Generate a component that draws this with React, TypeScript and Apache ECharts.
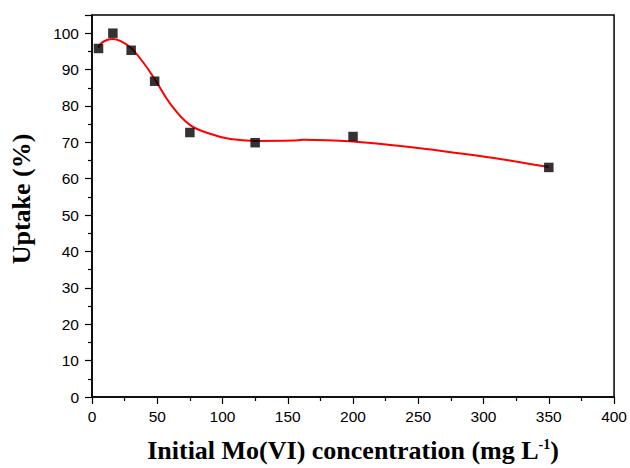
import React, { useEffect, useRef } from "react";
import * as echarts from "echarts";

// Measured uptake at each initial concentration
const concentrations = [5, 16, 30, 48, 75, 125, 200, 350];
const uptake = [95.8, 100, 95.3, 86.8, 72.7, 69.9, 71.6, 63.1];

// Fitted curve (x, y) samples
const fitX = [5, 7.3, 12, 16, 22, 30, 40, 48, 60, 75, 91, 106, 125, 154, 162, 200, 238, 275, 308, 350];
const fitY = [96.0, 97.3, 98.2, 98.4, 97.8, 95.9, 91.6, 87.4, 80.6, 74.8, 72.3, 70.9, 70.4, 70.5, 70.7, 70.2, 68.9, 67.3, 65.7, 63.2];

const xTicks = [0, 50, 100, 150, 200, 250, 300, 350, 400];
const yTicks = [0, 10, 20, 30, 40, 50, 60, 70, 80, 90, 100];

const SANS = "Liberation Sans, Arial, sans-serif";
const SERIF = "Liberation Serif, Times New Roman, serif";

export default function App() {
  const ref = useRef<HTMLDivElement>(null);

  useEffect(() => {
    if (!ref.current) return;
    const chart = echarts.init(ref.current, null, { renderer: "svg" });
    const tickFont = { fontFamily: SANS, fontSize: 15.5, color: "#000" };
    const majorTick = { show: true, inside: false, length: 7, lineStyle: { color: "#000", width: 1.2 } };
    const minorTick = { show: true, splitNumber: 2, length: 4, lineStyle: { color: "#000", width: 1.2 } };
    chart.setOption({
      animation: false,
      backgroundColor: "#fff",
      grid: {
        left: 86,
        right: 15,
        top: 15,
        bottom: 66,
        show: true,
        borderColor: "#000",
        borderWidth: 1.5,
        backgroundColor: "transparent",
      },
      xAxis: {
        type: "value",
        min: xTicks[0],
        max: xTicks[xTicks.length - 1],
        interval: 50,
        name: "{a|Initial Mo(VI) concentration (mg L}{s|-1}{a|)}",
        nameLocation: "middle",
        nameGap: 38,
        nameTextStyle: {
          rich: {
            a: { fontFamily: SERIF, fontWeight: "bold", fontSize: 26, color: "#000", lineHeight: 30 },
            s: { fontFamily: SERIF, fontWeight: "bold", fontSize: 14, color: "#000", lineHeight: 30, padding: [0, 0, 11, 0] },
          },
        },
        axisLine: { show: true, lineStyle: { color: "#000", width: 1.5 } },
        axisTick: majorTick,
        minorTick,
        splitLine: { show: false },
        axisLabel: { ...tickFont, margin: 11 },
      },
      yAxis: {
        type: "value",
        min: 0,
        max: 105,
        interval: 10,
        name: "Uptake (%)",
        nameLocation: "middle",
        nameGap: 58,
        nameTextStyle: { fontFamily: SERIF, fontWeight: "bold", fontSize: 26, color: "#000", padding: [0, 0, 0, 14] },
        axisLine: { show: true, lineStyle: { color: "#000", width: 1.5 } },
        axisTick: majorTick,
        minorTick,
        splitLine: { show: false },
        axisLabel: {
          ...tickFont,
          margin: 13,
          formatter: (v: number) => (yTicks.includes(v) ? String(v) : ""),
        },
      },
      series: [
        {
          type: "line",
          data: fitX.map((x, i) => [x, fitY[i]]),
          smooth: 0.4,
          showSymbol: false,
          lineStyle: { color: "#f00", width: 2 },
          z: 2,
        },
        {
          type: "scatter",
          data: concentrations.map((x, i) => [x, uptake[i]]),
          symbol: "rect",
          symbolSize: 9.5,
          itemStyle: { color: "#000" },
          z: 3,
        },
      ],
    });
    return () => chart.dispose();
  }, []);

  return <div ref={ref} style={{ width: 630, height: 468, position: "absolute", left: 0, top: 0 }} />;
}
